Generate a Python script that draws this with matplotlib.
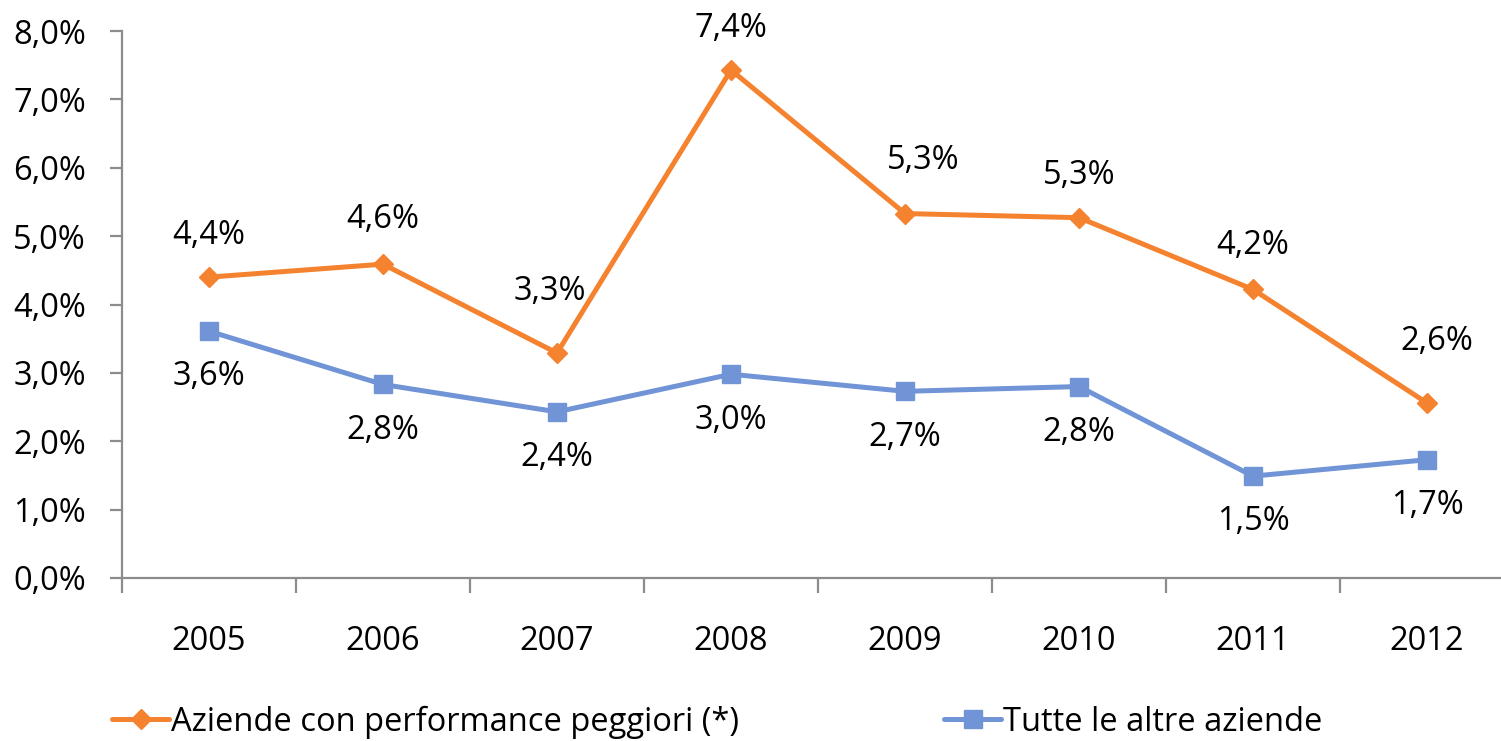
import matplotlib
matplotlib.use("Agg")
import matplotlib.pyplot as plt
from matplotlib.ticker import FixedLocator, FuncFormatter

plt.rcParams['font.family'] = ['Open Sans', 'DejaVu Sans']

# DATA
years = ['2005', '2006', '2007', '2008', '2009', '2010', '2011', '2012']
peggiori = [4.40, 4.59, 3.29, 7.43, 5.33, 5.27, 4.22, 2.56]
altre = [3.61, 2.83, 2.43, 2.98, 2.73, 2.80, 1.49, 1.73]
label_peggiori = 'Aziende con performance peggiori (*)'
label_altre = 'Tutte le altre aziende'

# label placement (points) for the orange series, as in the original
peg_offsets = [(0, 30), (0, 32), (-5, 44), (0, 30), (13, 38), (0, 30), (0, 32), (7, 44)]

orange = '#F4822F'
blue = '#7094D6'
grey = '#8C8C8C'

fig = plt.figure(figsize=(15.01, 7.41), dpi=100)
W, H = 1501, 741
ax = fig.add_axes([122 / W, 1 - 578 / H, (1514 - 122) / W, (578 - 31) / H])

x = list(range(len(years)))
l1, = ax.plot(x, peggiori, color=orange, lw=3.6, marker='D', ms=10, mfc=orange, mec=orange,
              solid_capstyle='round', label=label_peggiori)
l2, = ax.plot(x, altre, color=blue, lw=3.6, marker='s', ms=13, mfc=blue, mec=blue,
              solid_capstyle='round', label=label_altre)

fs = 23.5
for xi, v, off in zip(x, peggiori, peg_offsets):
    ax.annotate(f"{v:.1f}".replace('.', ',') + '%', (xi, v), xytext=off,
                textcoords='offset points', ha='center', va='center', fontsize=fs)
for xi, v in zip(x, altre):
    ax.annotate(f"{v:.1f}".replace('.', ',') + '%', (xi, v), xytext=(0, -33),
                textcoords='offset points', ha='center', va='center', fontsize=fs)

ax.set_xlim(-0.5, 7.5)
ax.set_ylim(0, 8)
ax.set_yticks(range(0, 9))
ax.yaxis.set_major_formatter(FuncFormatter(lambda v, p: f"{v:.1f}".replace('.', ',') + '%'))
ax.set_xticks(x)
ax.set_xticklabels(years)
ax.xaxis.set_minor_locator(FixedLocator([i - 0.5 for i in range(len(years) + 1)]))

for s in ['top', 'right']:
    ax.spines[s].set_visible(False)
for s in ['left', 'bottom']:
    ax.spines[s].set_color(grey)
    ax.spines[s].set_linewidth(1.6)

ax.tick_params(axis='y', length=9, width=1.6, color=grey, pad=17, labelsize=fs)
ax.tick_params(axis='x', which='major', length=0, pad=34, labelsize=fs)
ax.tick_params(axis='x', which='minor', length=11, width=1.6, color=grey)

fig.legend(handles=[l1, l2], loc='center left', bbox_to_anchor=(112 / W, 1 - 722 / H),
           ncol=2, frameon=False, fontsize=fs, handlelength=1.75, handletextpad=0.05,
           columnspacing=6.3, borderaxespad=0, borderpad=0)

fig.savefig('out.png', dpi=100)
